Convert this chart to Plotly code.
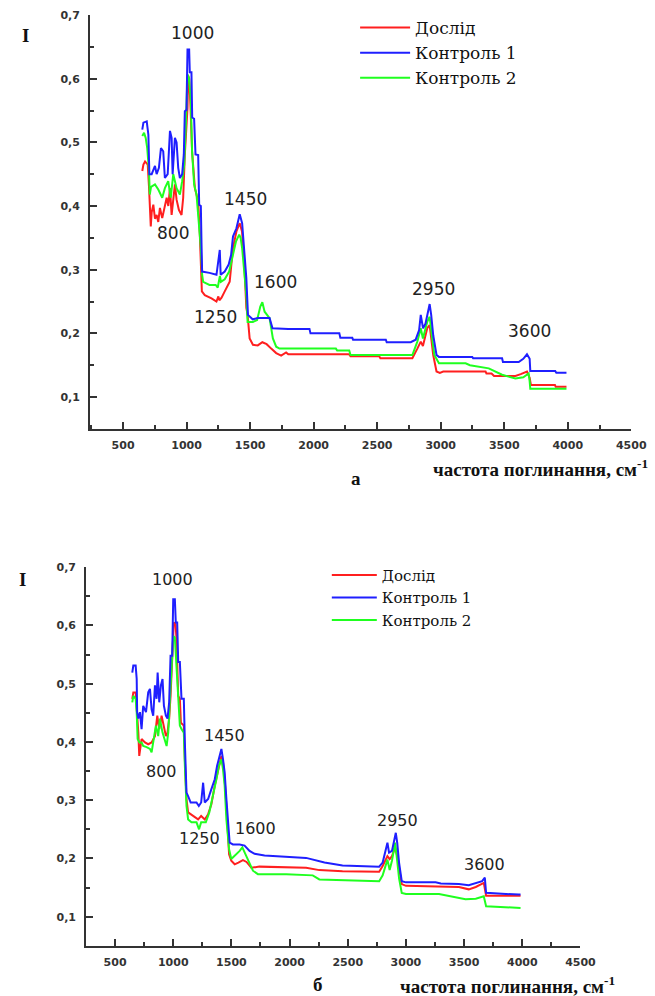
import plotly.graph_objects as go

# ---------------- data ----------------
series_names = ["Дослід", "Контроль 1", "Контроль 2"]
series_colors = ["#ff1f1f", "#1f1fff", "#1fff1f"]

# chart "а"
a_red_x = [651, 660, 673, 694, 704, 712, 718, 725, 738, 751, 764, 777, 790, 808, 825, 843, 856, 869, 882, 895,
           908, 921, 939, 960, 973, 986, 999, 1007, 1012, 1020, 1030, 1043, 1065, 1091, 1104, 1112, 1120, 1143,
           1196, 1235, 1250, 1258, 1275, 1300, 1339, 1365, 1392, 1418, 1436, 1452, 1462, 1470, 1480, 1486, 1496,
           1522, 1560, 1596, 1630, 1666, 1705, 1744, 1783, 1800, 2280, 2290, 2516, 2525, 2777, 2816, 2843, 2860,
           2894, 2913, 2925, 2941, 2967, 2993, 3020, 3353, 3360, 3400, 3420, 3588, 3630, 3679, 3700, 3710, 3899,
           3905, 3990]
a_red_y = [0.455, 0.465, 0.470, 0.465, 0.430, 0.392, 0.368, 0.390, 0.402, 0.380, 0.386, 0.375, 0.397, 0.381,
           0.395, 0.413, 0.400, 0.428, 0.386, 0.410, 0.434, 0.410, 0.394, 0.386, 0.413, 0.481, 0.523, 0.554, 0.605,
           0.600, 0.560, 0.486, 0.428, 0.407, 0.355, 0.293, 0.266, 0.260, 0.255, 0.250, 0.258, 0.252, 0.256, 0.266,
           0.281, 0.334, 0.360, 0.373, 0.360, 0.318, 0.271, 0.240, 0.229, 0.208, 0.192, 0.182, 0.181, 0.186, 0.183,
           0.176, 0.169, 0.165, 0.170, 0.167, 0.167, 0.164, 0.164, 0.161, 0.161, 0.176, 0.187, 0.180, 0.208, 0.213,
           0.192, 0.166, 0.140, 0.138, 0.140, 0.140, 0.137, 0.137, 0.133, 0.133, 0.136, 0.140, 0.130, 0.119, 0.119,
           0.116, 0.116]

a_blue_x = [651, 660, 686, 699, 707, 725, 751, 764, 782, 798, 816, 829, 851, 869, 882, 890, 908, 921, 934, 947,
            965, 978, 986, 999, 1007, 1020, 1025, 1038, 1044, 1059, 1070, 1091, 1099, 1112, 1117, 1122, 1180, 1235,
            1261, 1268, 1300, 1331, 1350, 1365, 1392, 1418, 1437, 1452, 1470, 1483, 1520, 1560, 1653, 1676, 1800,
            1967, 1975, 2202, 2210, 2304, 2310, 2568, 2575, 2764, 2803, 2830, 2843, 2861, 2880, 2913, 2925, 2941,
            2967, 2986, 3248, 3255, 3483, 3490, 3614, 3650, 3679, 3700, 3705, 3901, 3910, 3990]
a_blue_y = [0.520, 0.531, 0.533, 0.512, 0.450, 0.450, 0.463, 0.450, 0.460, 0.491, 0.486, 0.444, 0.450, 0.518,
            0.507, 0.450, 0.507, 0.500, 0.460, 0.444, 0.450, 0.481, 0.549, 0.551, 0.646, 0.646, 0.610, 0.610, 0.539,
            0.537, 0.481, 0.480, 0.402, 0.400, 0.344, 0.297, 0.295, 0.292, 0.331, 0.292, 0.297, 0.308, 0.323, 0.352,
            0.365, 0.387, 0.373, 0.329, 0.287, 0.229, 0.222, 0.224, 0.224, 0.208, 0.207, 0.207, 0.200, 0.200, 0.193,
            0.193, 0.190, 0.190, 0.186, 0.186, 0.190, 0.205, 0.229, 0.208, 0.215, 0.246, 0.229, 0.197, 0.166, 0.163,
            0.163, 0.161, 0.161, 0.155, 0.155, 0.160, 0.167, 0.160, 0.141, 0.141, 0.138, 0.138]

a_green_x = [651, 665, 678, 690, 704, 710, 720, 751, 777, 808, 829, 855, 875, 895, 921, 947, 965, 981, 994, 1007,
             1020, 1033, 1043, 1059, 1078, 1096, 1112, 1122, 1130, 1180, 1229, 1245, 1262, 1270, 1300, 1335, 1361,
             1388, 1414, 1425, 1437, 1452, 1470, 1480, 1522, 1555, 1580, 1596, 1614, 1653, 1679, 1705, 1731, 2175,
             2185, 2280, 2290, 2777, 2816, 2843, 2860, 2894, 2913, 2930, 2950, 2986, 3196, 3230, 3378, 3483, 3588,
             3650, 3692, 3700, 3705, 3990]
a_green_y = [0.510, 0.515, 0.507, 0.491, 0.455, 0.418, 0.430, 0.434, 0.426, 0.413, 0.428, 0.439, 0.413, 0.450,
             0.428, 0.418, 0.439, 0.465, 0.528, 0.607, 0.600, 0.565, 0.486, 0.434, 0.418, 0.376, 0.334, 0.292, 0.281,
             0.276, 0.276, 0.272, 0.290, 0.281, 0.285, 0.297, 0.323, 0.344, 0.355, 0.350, 0.334, 0.302, 0.260, 0.218,
             0.218, 0.221, 0.242, 0.249, 0.234, 0.224, 0.192, 0.179, 0.176, 0.176, 0.173, 0.173, 0.166, 0.166, 0.187,
             0.208, 0.192, 0.218, 0.226, 0.197, 0.166, 0.153, 0.153, 0.150, 0.145, 0.135, 0.129, 0.131, 0.137, 0.125,
             0.113, 0.113]

# chart "б"
b_red_x = [648, 657, 677, 686, 700, 708, 728, 757, 785, 814, 843, 863, 880, 900, 920, 937, 951, 965, 977, 990,
           1005, 1020, 1028, 1043, 1057, 1066, 1091, 1100, 1114, 1128, 1170, 1214, 1240, 1271, 1300, 1328, 1357,
           1385, 1414, 1428, 1442, 1457, 1471, 1480, 1499, 1528, 1560, 1599, 1630, 1671, 1740, 2142, 2256, 2455,
           2770, 2800, 2841, 2860, 2880, 2907, 2925, 2941, 2964, 3000, 3300, 3455, 3540, 3600, 3669, 3689, 3985]
b_red_y = [0.474, 0.485, 0.485, 0.462, 0.416, 0.376, 0.405, 0.399, 0.396, 0.399, 0.410, 0.445, 0.422, 0.445,
           0.428, 0.410, 0.416, 0.440, 0.479, 0.542, 0.605, 0.602, 0.577, 0.479, 0.474, 0.433, 0.428, 0.370, 0.302,
           0.279, 0.273, 0.267, 0.273, 0.267, 0.276, 0.293, 0.325, 0.353, 0.376, 0.365, 0.336, 0.290, 0.244, 0.207,
           0.196, 0.190, 0.193, 0.197, 0.194, 0.184, 0.186, 0.184, 0.180, 0.178, 0.177, 0.187, 0.204, 0.199, 0.204,
           0.219, 0.204, 0.183, 0.156, 0.153, 0.152, 0.151, 0.147, 0.151, 0.158, 0.136, 0.136]

b_blue_x = [648, 657, 677, 686, 690, 700, 714, 728, 742, 766, 785, 800, 814, 828, 843, 857, 866, 880, 894, 908,
            920, 937, 951, 965, 977, 991, 1000, 1014, 1022, 1034, 1043, 1057, 1071, 1091, 1100, 1114, 1128, 1150,
            1200, 1220, 1240, 1257, 1271, 1300, 1328, 1357, 1377, 1399, 1414, 1428, 1442, 1457, 1471, 1485, 1513,
            1571, 1613, 1656, 1699, 1785, 2142, 2228, 2300, 2455, 2770, 2800, 2841, 2855, 2880, 2913, 2925, 2941,
            2964, 3000, 3255, 3300, 3455, 3540, 3598, 3655, 3678, 3689, 3969, 3985]
b_blue_y = [0.519, 0.531, 0.531, 0.508, 0.451, 0.440, 0.451, 0.422, 0.462, 0.451, 0.485, 0.491, 0.456, 0.445,
            0.497, 0.474, 0.519, 0.468, 0.497, 0.508, 0.462, 0.445, 0.440, 0.468, 0.548, 0.548, 0.645, 0.645, 0.605,
            0.605, 0.537, 0.537, 0.474, 0.474, 0.399, 0.313, 0.307, 0.296, 0.296, 0.290, 0.296, 0.330, 0.296, 0.302,
            0.319, 0.336, 0.359, 0.376, 0.388, 0.370, 0.348, 0.302, 0.256, 0.227, 0.224, 0.224, 0.222, 0.213, 0.208,
            0.205, 0.201, 0.196, 0.193, 0.188, 0.186, 0.193, 0.227, 0.210, 0.213, 0.244, 0.227, 0.193, 0.161, 0.159,
            0.159, 0.157, 0.156, 0.154, 0.158, 0.161, 0.167, 0.141, 0.138, 0.138]

b_green_x = [648, 657, 677, 686, 694, 710, 728, 742, 771, 800, 814, 828, 851, 871, 885, 908, 928, 943, 957, 971,
             985, 1000, 1014, 1028, 1043, 1057, 1071, 1091, 1100, 1114, 1128, 1157, 1200, 1222, 1240, 1280, 1310,
             1342, 1371, 1392, 1414, 1428, 1442, 1457, 1480, 1499, 1528, 1571, 1594, 1620, 1656, 1685, 1728, 1971,
             2199, 2256, 2770, 2800, 2841, 2860, 2880, 2907, 2925, 2941, 2964, 3000, 3284, 3400, 3512, 3600, 3669,
             3689, 3985]
b_green_y = [0.468, 0.479, 0.474, 0.451, 0.405, 0.399, 0.399, 0.393, 0.391, 0.388, 0.382, 0.399, 0.428, 0.410,
             0.440, 0.416, 0.405, 0.393, 0.416, 0.474, 0.525, 0.582, 0.579, 0.531, 0.485, 0.428, 0.422, 0.416, 0.359,
             0.290, 0.267, 0.262, 0.262, 0.250, 0.262, 0.262, 0.279, 0.307, 0.336, 0.359, 0.370, 0.353, 0.325, 0.267,
             0.216, 0.199, 0.204, 0.213, 0.219, 0.207, 0.190, 0.179, 0.173, 0.173, 0.171, 0.164, 0.161, 0.171, 0.198,
             0.180, 0.196, 0.227, 0.196, 0.166, 0.141, 0.139, 0.139, 0.135, 0.130, 0.131, 0.135, 0.118, 0.115]

# peak labels
peak_labels = ["1000", "800", "1450", "1250", "1600", "2950", "3600"]
a_label_x = [1049, 892, 1465, 1229, 1700, 2947, 3700]
a_label_y = [0.672, 0.357, 0.411, 0.226, 0.280, 0.269, 0.203]
b_label_x = [997, 903, 1442, 1228, 1708, 2924, 3678]
b_label_y = [0.678, 0.349, 0.411, 0.234, 0.251, 0.265, 0.189]

# axes
y_tickvals = [0.1, 0.2, 0.3, 0.4, 0.5, 0.6, 0.7]
y_ticktext = ["0,1", "0,2", "0,3", "0,4", "0,5", "0,6", "0,7"]
x_tickvals = [500, 1000, 1500, 2000, 2500, 3000, 3500, 4000, 4500]
x_ticktext = ["500", "1000", "1500", "2000", "2500", "3000", "3500", "4000", "4500"]
x_title = "частота поглинання, см<sup>-1</sup>"
y_title = "I"
panel_letters = ["а", "б"]

# ---------------- figure ----------------
W, H = 655, 996

# measured correction between requested layout pixels and the photographed page
SX, CX = 0.979, -0.5
SY, CY = 0.992, 5.0


def PX(t):
    return (t - CX) / SX


def PY(t):
    return (t - CY) / SY


fig = go.Figure()

panels = [
    ("x", "y", "legend", [(a_red_x, a_red_y), (a_blue_x, a_blue_y), (a_green_x, a_green_y)]),
    ("x2", "y2", "legend2", [(b_red_x, b_red_y), (b_blue_x, b_blue_y), (b_green_x, b_green_y)]),
]
draw_order = [0, 2, 1]  # red, green, blue on top
for xa, ya, lg, data in panels:
    for i in draw_order:
        xs, ys = data[i]
        fig.add_trace(go.Scatter(
            x=xs, y=ys, mode="lines", name=series_names[i],
            line=dict(color=series_colors[i], width=2),
            xaxis=xa, yaxis=ya, legend=lg, legendrank=i + 1,
            hoverinfo="skip",
        ))

axis_color = "#333333"
tick_font = dict(family="DejaVu Sans", size=11, color="#333333", weight="bold")


def xaxis_cfg(domain, anchor, rng):
    return dict(
        domain=domain, anchor=anchor, range=rng,
        showline=True, linecolor=axis_color, linewidth=2,
        showgrid=False, zeroline=False,
        tickmode="array", tickvals=x_tickvals, ticktext=x_ticktext,
        ticks="inside", ticklen=7, tickwidth=2, tickcolor=axis_color,
        tickfont=tick_font, ticklabelstandoff=5,
        minor=dict(tickmode="linear", tick0=250, dtick=500, ticks="inside",
                   ticklen=4, tickwidth=2, tickcolor=axis_color),
        fixedrange=True,
    )


def yaxis_cfg(domain, anchor):
    return dict(
        domain=domain, anchor=anchor, range=[0.05, 0.7],
        showline=True, linecolor=axis_color, linewidth=2,
        showgrid=False, zeroline=False,
        tickmode="array", tickvals=y_tickvals, ticktext=y_ticktext,
        ticks="inside", ticklen=7, tickwidth=2, tickcolor=axis_color,
        tickfont=tick_font, ticklabelstandoff=6,
        minor=dict(tickmode="linear", tick0=0.05, dtick=0.1, ticks="inside",
                   ticklen=4, tickwidth=2, tickcolor=axis_color),
        fixedrange=True,
    )


top_x_dom = [PX(90) / W, PX(633) / W]
top_y_dom = [1 - PY(427) / H, 1 - PY(14) / H]
bot_x_dom = [PX(86) / W, PX(582) / W]
bot_y_dom = [1 - PY(943) / H, 1 - PY(565) / H]

fig.update_layout(
    width=W, height=H, autosize=False,
    margin=dict(l=0, r=0, t=0, b=0),
    paper_bgcolor="white", plot_bgcolor="white",
    xaxis=xaxis_cfg(top_x_dom, "y", [241, 4500]),
    yaxis=yaxis_cfg(top_y_dom, "x"),
    xaxis2=xaxis_cfg(bot_x_dom, "y2", [252, 4500]),
    yaxis2=yaxis_cfg(bot_y_dom, "x2"),
    legend=dict(x=364 / W, y=1 - 4 / H, xanchor="left", yanchor="top",
                bgcolor="rgba(0,0,0,0)", itemwidth=50,
                font=dict(family="DejaVu Serif", size=17, color="#111111")),
    legend2=dict(x=335 / W, y=1 - 556 / H, xanchor="left", yanchor="top",
                 bgcolor="rgba(0,0,0,0)", itemwidth=45,
                 font=dict(family="DejaVu Serif", size=15, color="#111111")),
    showlegend=True,
)

annotations = []
for lbl, lx, ly in zip(peak_labels, a_label_x, a_label_y):
    annotations.append(dict(x=lx, y=ly, xref="x", yref="y", text=lbl, showarrow=False,
                            xanchor="center", yanchor="middle",
                            font=dict(family="DejaVu Sans", size=17, color="#222222")))
for lbl, lx, ly in zip(peak_labels, b_label_x, b_label_y):
    annotations.append(dict(x=lx, y=ly, xref="x2", yref="y2", text=lbl, showarrow=False,
                            xanchor="center", yanchor="middle",
                            font=dict(family="DejaVu Sans", size=16, color="#222222")))

title_font = dict(family="Liberation Serif", size=19, color="#111111", weight="bold")


def paper_text(text, px, py, xanchor="center"):
    return dict(x=PX(px) / W, y=1 - PY(py) / H, xref="paper", yref="paper", text=text,
                xanchor=xanchor, yanchor="middle", showarrow=False, font=title_font)


annotations += [
    paper_text(y_title, 25, 34),
    paper_text(y_title, 22, 577),
    paper_text(x_title, 652, 466, "right"),
    paper_text(x_title, 619, 982, "right"),
    paper_text(panel_letters[0], 357, 477),
    paper_text(panel_letters[1], 319, 982),
]

fig.update_layout(annotations=annotations)

fig.write_html(
    "out.html",
    config={"displayModeBar": False, "responsive": False},
    post_script="document.body.style.margin='0';document.body.style.overflow='hidden';",
)
